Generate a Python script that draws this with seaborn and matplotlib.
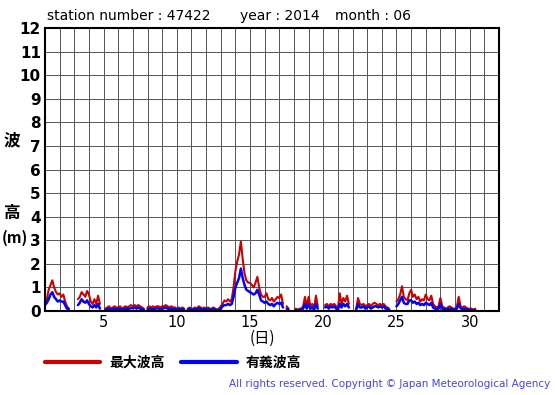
import numpy as np
import pandas as pd
import seaborn as sns
import matplotlib
matplotlib.use("Agg")
import matplotlib.pyplot as plt
from matplotlib.lines import Line2D

nan = np.nan

# 3時間ごとの値 (1日8個: 0,3,6,9,12,15,18,21時)
max_wave = [
    0.4, 0.5, 0.9, 1.1, 1.3, 1.0, 0.8, 0.7,        # 1
    0.75, 0.6, 0.7, 0.4, 0.2, 0.1, nan, nan,       # 2
    nan, nan, 0.5, 0.6, 0.8, 0.7, 0.6, 0.85,       # 3
    0.7, 0.4, 0.3, 0.5, 0.3, 0.65, 0.3, nan,       # 4
    nan, 0.1, 0.15, 0.2, 0.1, 0.15, 0.2, 0.15,     # 5
    0.15, 0.2, 0.1, 0.15, 0.2, 0.15, 0.2, 0.25,    # 6
    0.2, 0.25, 0.2, 0.25, 0.2, 0.15, 0.1, nan,     # 7
    0.15, 0.2, 0.15, 0.2, 0.15, 0.2, 0.2, 0.15,    # 8
    0.2, 0.2, 0.25, 0.2, 0.15, 0.2, 0.15, 0.15,    # 9
    0.1, 0.15, 0.1, 0.15, 0.1, nan, 0.1, 0.15,     # 10
    0.1, 0.1, 0.15, 0.1, 0.2, 0.15, 0.1, 0.15,     # 11
    0.1, 0.15, 0.1, 0.1, 0.15, 0.1, 0.05, 0.1,     # 12
    0.2, 0.3, 0.45, 0.4, 0.5, 0.4, 0.5, 1.0,       # 13
    1.7, 2.1, 2.4, 2.95, 2.2, 1.6, 1.3, 1.2,       # 14
    1.2, 1.1, 1.0, 1.2, 1.45, 1.0, 0.7, 0.6,       # 15
    0.6, 0.75, 0.5, 0.45, 0.55, 0.4, 0.5, 0.6,     # 16
    0.55, 0.7, 0.3, nan, 0.2, 0.1, nan, nan,       # 17
    nan, 0.1, 0.05, 0.1, 0.1, 0.2, 0.6, 0.2,       # 18
    0.6, 0.2, 0.3, 0.1, 0.65, 0.2, nan, nan,       # 19
    nan, 0.25, 0.3, 0.2, 0.3, 0.25, 0.3, 0.2,      # 20
    0.1, 0.75, 0.3, 0.55, 0.4, 0.65, 0.3, nan,     # 21
    nan, nan, 0.1, 0.55, 0.3, 0.25, 0.3, 0.2,      # 22
    0.25, 0.3, 0.2, 0.3, 0.35, 0.3, 0.25, 0.3,     # 23
    0.25, 0.3, 0.2, 0.15, 0.1, nan, 0.05, nan,     # 24
    0.4, 0.5, 0.7, 1.05, 0.6, 0.5, 0.45, 0.75,     # 25
    0.9, 0.6, 0.7, 0.5, 0.6, 0.4, 0.5, 0.45,       # 26
    0.7, 0.5, 0.45, 0.65, 0.3, 0.2, 0.15, 0.2,     # 27
    0.55, 0.2, 0.15, 0.1, 0.15, 0.2, 0.15, 0.1,    # 28
    0.1, 0.2, 0.6, 0.2, 0.15, 0.2, 0.15, 0.1,      # 29
    0.1, 0.1, 0.05, 0.1, nan, nan, nan, nan,       # 30
]
sig_wave = [
    0.25, 0.35, 0.5, 0.7, 0.8, 0.6, 0.5, 0.4,
    0.45, 0.4, 0.4, 0.25, 0.1, 0.08, nan, nan,
    nan, nan, 0.25, 0.35, 0.5, 0.4, 0.35, 0.45,
    0.3, 0.2, 0.15, 0.25, 0.15, 0.3, 0.1, nan,
    nan, 0.05, 0.08, 0.1, 0.05, 0.08, 0.1, 0.08,
    0.08, 0.1, 0.05, 0.08, 0.1, 0.08, 0.1, 0.12,
    0.12, 0.15, 0.1, 0.15, 0.1, 0.08, 0.05, nan,
    0.08, 0.1, 0.08, 0.1, 0.08, 0.12, 0.1, 0.08,
    0.1, 0.12, 0.15, 0.1, 0.08, 0.1, 0.08, 0.08,
    0.05, 0.08, 0.05, 0.08, 0.05, nan, 0.05, 0.08,
    0.05, 0.05, 0.08, 0.05, 0.12, 0.08, 0.05, 0.08,
    0.05, 0.08, 0.05, 0.05, 0.08, 0.05, 0.03, 0.05,
    0.1, 0.2, 0.25, 0.25, 0.3, 0.25, 0.3, 0.6,
    1.0, 1.2, 1.4, 1.8, 1.4, 1.1, 0.9, 0.85,
    0.8, 0.75, 0.7, 0.75, 0.9, 0.7, 0.45, 0.4,
    0.35, 0.4, 0.3, 0.25, 0.3, 0.2, 0.3, 0.35,
    0.3, 0.35, 0.15, nan, 0.1, 0.05, nan, nan,
    nan, 0.05, 0.03, 0.05, 0.05, 0.1, 0.3, 0.1,
    0.3, 0.1, 0.15, 0.05, 0.3, 0.1, nan, nan,
    nan, 0.15, 0.2, 0.1, 0.2, 0.15, 0.2, 0.1,
    0.05, 0.3, 0.15, 0.3, 0.2, 0.3, 0.15, nan,
    nan, nan, 0.05, 0.3, 0.15, 0.15, 0.2, 0.1,
    0.15, 0.2, 0.1, 0.15, 0.2, 0.2, 0.15, 0.2,
    0.15, 0.2, 0.1, 0.08, 0.05, nan, 0.03, nan,
    0.2, 0.3, 0.45, 0.6, 0.35, 0.3, 0.3, 0.45,
    0.45, 0.35, 0.4, 0.3, 0.35, 0.25, 0.3, 0.25,
    0.35, 0.3, 0.25, 0.35, 0.15, 0.1, 0.08, 0.1,
    0.3, 0.1, 0.08, 0.05, 0.08, 0.1, 0.08, 0.05,
    0.05, 0.1, 0.3, 0.12, 0.08, 0.1, 0.08, 0.05,
    0.05, 0.05, 0.03, 0.05, nan, nan, nan, nan,
]

x_ticks = [5, 10, 15, 20, 25, 30]
y_ticks = list(range(0, 13))

RED = "#cc0000"
BLUE = "#0000ff"
JP = ["Noto Sans CJK JP", "DejaVu Sans"]


def make_frame(values):
    df = pd.DataFrame({"day": 1 + np.arange(len(values)) / 8, "h": values})
    # 欠測で線を切るためのセグメント番号
    df["seg"] = df["h"].isna().cumsum()
    return df.dropna()


sns.set_style("white")
plt.rcParams["font.family"] = ["DejaVu Sans", "Noto Sans CJK JP"]
plt.rcParams["text.color"] = "black"
plt.rcParams["xtick.color"] = "black"
plt.rcParams["ytick.color"] = "black"

fig = plt.figure(figsize=(5.55, 3.95), dpi=100)
ax = fig.add_axes([45 / 555, 1 - 311 / 395, 454 / 555, 283 / 395])

sns.lineplot(data=make_frame(max_wave), x="day", y="h", units="seg", estimator=None,
             color=RED, lw=1.5, ax=ax, legend=False)
sns.lineplot(data=make_frame(sig_wave), x="day", y="h", units="seg", estimator=None,
             color=BLUE, lw=1.8, ax=ax, legend=False)

ax.set_xlim(1, 32)
ax.set_ylim(0, 12)
ax.set_xticks(x_ticks)
ax.set_xticks(range(1, 33), minor=True)
ax.set_yticks(y_ticks)
ax.set_xticklabels([str(t) for t in x_ticks], fontsize=10.5)
ax.set_yticklabels([str(t) for t in y_ticks], fontsize=11, fontweight="bold")
ax.tick_params(which="both", length=0, pad=3)
ax.grid(which="both", color="#555555", lw=0.7)
ax.set_xlabel("")
ax.set_ylabel("")
for s in ax.spines.values():
    s.set_color("black")
    s.set_linewidth(1.5)

ty = 1 - 16 / 395
fig.text(47 / 555, ty, "station number : 47422", fontsize=10, va="center", ha="left")
fig.text(240 / 555, ty, "year : 2014", fontsize=10, va="center", ha="left")
fig.text(335 / 555, ty, "month : 06", fontsize=10, va="center", ha="left")

fig.text(12 / 555, 1 - 140 / 395, "波", family=JP, fontsize=12, fontweight="bold",
         ha="center", va="center")
fig.text(12 / 555, 1 - 213 / 395, "高", family=JP, fontsize=12, fontweight="bold",
         ha="center", va="center")
fig.text(15 / 555, 1 - 238 / 395, "(m)", family=JP, fontsize=11, fontweight="bold",
         ha="center", va="center")
fig.text(262 / 555, 1 - 338 / 395, "(日)", family=JP, fontsize=11,
         ha="center", va="center")

handles = [Line2D([], [], color=RED, lw=3), Line2D([], [], color=BLUE, lw=3)]
fig.legend(handles, ["最大波高", "有義波高"], loc="center left",
           bbox_to_anchor=(32 / 555, 1 - 363 / 395), ncol=2, frameon=False,
           handlelength=4.0, columnspacing=1.2, handletextpad=0.65,
           prop={"family": JP, "weight": "bold", "size": 10})

fig.text(550 / 555, 1 - 384 / 395,
         "All rights reserved. Copyright \u00a9 Japan Meteorological Agency",
         color="#4444ee", fontsize=7.5, ha="right", va="center")

fig.savefig("out.png", dpi=100)
